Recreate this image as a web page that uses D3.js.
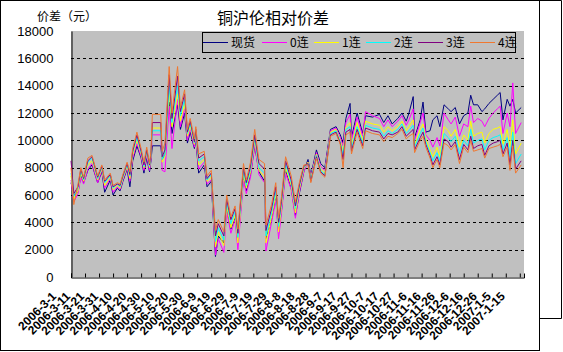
<!DOCTYPE html>
<html><head><meta charset="utf-8">
<script src="https://cdn.jsdelivr.net/npm/d3@7"></script>
<style>
body{margin:0;background:#fff}
svg{display:block}
text{font-family:"Liberation Sans","Noto Sans CJK SC",sans-serif}
.cjk{font-family:"Noto Sans CJK SC",sans-serif}
</style>
</head><body><svg id="c" width="563" height="352"></svg>
<script>
const dates = ["2006-3-1","2006-3-3","2006-3-6","2006-3-8","2006-3-10","2006-3-13","2006-3-16","2006-3-20","2006-3-23","2006-3-25",
"2006-3-29","2006-3-31","2006-4-3","2006-4-5","2006-4-7","2006-4-10","2006-4-12","2006-4-14","2006-4-17","2006-4-20",
"2006-4-22","2006-4-24","2006-4-26","2006-4-27","2006-4-28","2006-5-4","2006-5-5","2006-5-7","2006-5-10","2006-5-12",
"2006-5-16","2006-5-18","2006-5-21","2006-5-23","2006-5-25","2006-5-28","2006-5-29","2006-5-31","2006-6-4","2006-6-6",
"2006-6-9","2006-6-12","2006-6-14","2006-6-18","2006-6-20","2006-6-23","2006-6-26","2006-6-28","2006-7-2","2006-7-4",
"2006-7-7","2006-7-10","2006-7-13","2006-7-17","2006-7-18","2006-7-22","2006-7-25","2006-7-27","2006-7-29","2006-8-1",
"2006-8-5","2006-8-8","2006-8-11","2006-8-14","2006-8-17","2006-8-19","2006-8-23","2006-8-26","2006-8-29","2006-9-2",
"2006-9-6","2006-9-9","2006-9-11","2006-9-13","2006-9-16","2006-9-17","2006-9-21","2006-9-25","2006-9-27","2006-10-2",
"2006-10-7","2006-10-10","2006-10-13","2006-10-16","2006-10-20","2006-10-23","2006-10-26","2006-10-28","2006-10-31","2006-11-1",
"2006-11-5","2006-11-7","2006-11-9","2006-11-12","2006-11-14","2006-11-17","2006-11-19","2006-11-22","2006-11-25","2006-11-27",
"2006-11-30","2006-12-3","2006-12-6","2006-12-9","2006-12-11","2006-12-13","2006-12-16","2006-12-19","2006-12-21","2006-12-24",
"2006-12-27","2006-12-30","2007-1-1","2007-1-3","2007-1-6","2007-1-8","2007-1-10","2007-1-12","2007-1-16"];

const spot = [6900,6000,6200,7400,6900,7800,8200,6900,7700,6200,
7100,6000,6500,6300,7000,7900,6600,8500,9600,8700,
7600,8700,7700,8500,9600,9600,8600,9000,12800,10500,
12600,10800,12000,9800,10600,9400,10100,7600,8200,6600,
7000,1500,3000,2500,5000,3500,4300,2600,7300,6300,
7500,9600,7700,7000,2800,4200,5800,3300,4800,7800,
6500,4500,6200,7700,8600,7400,9300,8300,8000,10800,
11000,10400,9800,11600,12700,10200,12000,10500,11800,11700,
11900,11300,11800,11200,11600,12000,11400,12000,13200,10200,
11500,12800,10600,10700,11500,11800,11000,12600,12300,12100,
12400,11200,11800,12000,13300,12600,12600,12100,12300,12700,
13000,13300,13500,11500,13000,12500,13000,12000,12400];

const lian0 = [7100,5500,6100,7300,6800,7900,8300,6900,7800,6500,
7200,6200,6600,6400,7100,8000,7000,8700,9800,8800,
7800,8900,7800,8600,10400,10400,7800,7700,12500,9400,
13000,11000,12300,10000,10800,9500,10200,7900,8400,6800,
7100,1600,2800,1800,4800,3200,4200,2000,7100,6100,
7300,9700,7500,6900,1900,4000,5600,2800,4600,7600,
6400,4300,6300,7700,8400,7300,9100,8100,7800,10700,
10900,10200,9600,11300,11900,10000,11700,10300,12100,11800,
11600,11000,11500,11000,11400,11800,11100,11500,12300,10000,
11300,12000,10400,10000,9500,10200,9600,12000,11500,11200,
11700,10300,11200,11000,12500,11300,11600,11400,11000,11600,
12000,12300,12500,10500,12000,11000,14200,10500,11300];

const lian1 = [7400,5700,6300,7600,7000,8200,8500,7100,7900,6700,
7300,6400,6700,6500,7200,8100,7200,8900,10000,9000,
8000,9100,8000,8800,10900,10900,8400,8800,13500,11000,
13400,11400,12700,10300,11000,9700,10400,8200,8600,7000,
7300,2200,3300,2300,5200,3600,4500,2500,7500,6500,
7700,10000,7800,7300,2500,4400,6000,3300,5000,8000,
6700,4700,6500,7900,8400,7200,9000,7900,7600,10600,
10800,10000,9200,11000,11300,9600,11300,10000,11400,11200,
11100,10600,11000,10700,11000,11400,10700,11000,11500,9700,
10800,11200,10100,9300,8800,9500,8800,11000,10700,10300,
10800,9500,10400,10000,11400,10300,10500,10600,9800,10500,
10800,10900,11000,9700,10800,9500,11500,9000,9800];

const lian2 = [7600,5900,6500,7800,7100,8400,8700,7200,8000,6900,
7400,6500,6800,6600,7300,8200,7400,9100,10200,9100,
8100,9200,8100,8900,10700,10700,8600,9000,14000,11300,
14000,11800,13000,10500,11200,9800,10600,8500,8800,7100,
7500,2600,3600,2700,5500,3900,4800,2900,7800,6700,
7900,10200,8000,7600,3000,4700,6300,3700,5300,8300,
6900,5000,6700,8000,8300,7100,8900,7800,7500,10500,
10700,9900,8900,10800,11000,9400,11000,9800,11100,10900,
10800,10300,10700,10500,10800,11200,10500,10700,11100,9500,
10500,10900,9900,9100,8500,9100,8500,10500,10200,9900,
10300,9000,10000,9600,10800,9800,10000,10100,9300,10000,
10200,10300,10400,9300,10200,8800,10600,8300,9000];

const lian3 = [8500,6100,6600,7900,7200,8500,8800,7300,8100,7000,
7500,6600,6800,6700,7400,8300,7500,9200,10400,9200,
8200,9300,8200,9000,11300,11300,8800,9300,14800,11600,
14700,12100,13400,10600,11400,9900,10800,8700,9000,7200,
7600,3000,3900,3000,5700,4200,5000,3200,8000,6900,
8100,10400,8300,7900,3400,5000,6600,4000,5500,8500,
7100,5200,6800,8100,8300,7000,8800,7700,7400,10400,
10600,9800,8600,10600,10800,9200,10800,9600,10900,10700,
10600,10100,10500,10400,10600,11000,10300,10500,10800,9300,
10200,10600,9700,8900,8200,8800,8200,10100,9900,9500,
9900,8600,9700,9300,10300,9400,9600,9700,8900,9600,
9800,9900,10000,9000,9800,8200,10000,7900,8500];

const lian4 = [8000,5300,6800,8000,7300,8700,8900,7400,8200,7100,
7600,6700,6900,6800,7500,8400,7700,9400,10600,9400,
8400,9500,8300,9200,11900,11900,9200,9800,15400,12000,
15400,12400,13700,10800,11600,10100,11000,9000,9200,7400,
7800,3400,4200,3300,6000,4400,5200,3500,8300,7100,
8400,10800,8600,8300,3800,5300,6900,4300,5800,8800,
7400,5500,7000,8200,8200,6900,8700,7600,7300,10300,
10500,9700,8000,10400,10600,9000,10600,9400,10700,10500,
10400,9900,10300,10200,10500,10800,10100,10300,10500,9100,
10000,10300,9500,8700,8000,8600,8000,9800,9600,9300,
9700,8300,9500,9100,10000,9200,9300,9400,8700,9400,
9500,9600,9700,8800,9500,7800,9600,7600,8200];

const seriesNames = ["现货","0连","1连","2连","3连","4连"];
const seriesColors = ["#000080","#FF00FF","#FFFF00","#00FFFF","#800080","#F07830"];
const yTicks = [0,2000,4000,6000,8000,10000,12000,14000,16000,18000];
const xTickLabels = ["2006-3-1","2006-3-11","2006-3-21","2006-3-31","2006-4-10","2006-4-20","2006-4-30",
"2006-5-10","2006-5-20","2006-5-30","2006-6-9","2006-6-19","2006-6-29","2006-7-9","2006-7-19","2006-7-29",
"2006-8-8","2006-8-18","2006-8-28","2006-9-7","2006-9-17","2006-9-27","2006-10-7","2006-10-17","2006-10-27",
"2006-11-6","2006-11-16","2006-11-26","2006-12-6","2006-12-16","2006-12-26","2007-1-5","2007-1-15"];
const xDomain = ["2006-3-1","2007-1-18"];
const title = "铜沪伦相对价差";
const yTitle = "价差（元）";

const parse = d3.timeParse("%Y-%m-%d");
const svg = d3.select("#c");
const L = 71, R = 524, T = 31, B = 277;

// frames
svg.append("rect").attr("x",0.5).attr("y",0.5).attr("width",539).attr("height",350)
  .attr("fill","#fff").attr("stroke","#000");
svg.append("path").attr("d","M539.5,0.5H561.5V318.5H539.5").attr("fill","none").attr("stroke","#000");

const x = d3.scaleTime().domain(xDomain.map(parse)).range([L,R]);
const y = d3.scaleLinear().domain([0,18000]).range([B,T]);

svg.append("rect").attr("x",L).attr("y",T).attr("width",R-L).attr("height",B-T).attr("fill","#C0C0C0");

// gridlines
svg.append("g").selectAll("line").data(yTicks.filter(v=>v>0 && v<18000)).join("line")
  .attr("x1",L).attr("x2",R).attr("y1",d=>Math.round(y(d))+0.5).attr("y2",d=>Math.round(y(d))+0.5)
  .attr("stroke","#000").attr("stroke-dasharray","3,3").attr("stroke-width",1);

// y axis
const yAxis = d3.axisLeft(y).tickValues(yTicks).tickSize(0).tickPadding(18).tickFormat(d3.format("d"));
const gy = svg.append("g").attr("transform",`translate(${L+0.5},0)`).call(yAxis);
gy.select(".domain").attr("stroke","#000");
gy.selectAll("text").attr("font-size",13).attr("fill","#000").style("font-family","Liberation Sans");

// x axis
const xTickDates = xTickLabels.map(parse);
const xAxis = d3.axisBottom(x).tickValues(xTickDates).tickSize(-4).tickFormat(()=>"");
const gx = svg.append("g").attr("transform",`translate(0,${B+0.5})`).call(xAxis);
gx.select(".domain").attr("stroke","#000");
gx.selectAll(".tick line").attr("stroke","#000");
svg.append("g").selectAll("text").data(xTickLabels).join("text")
  .attr("transform",d=>`translate(${x(parse(d))-14},${B+20}) rotate(-45)`)
  .attr("text-anchor","end").attr("font-size",12).attr("font-weight","bold").attr("fill","#000")
  .text(d=>d);

// lines
const allSeries = [spot,lian0,lian1,lian2,lian3,lian4];
const pd = dates.map(parse);
const line = d3.line().x((d,i)=>x(pd[i])).y(d=>y(d));
svg.append("g").selectAll("path").data(allSeries).join("path")
  .attr("d",d=>line(d)).attr("fill","none")
  .attr("stroke",(d,i)=>seriesColors[i]).attr("stroke-width",1);

// titles
svg.append("text").attr("class","cjk").attr("x",273).attr("y",24).attr("text-anchor","middle")
  .attr("font-size",16).attr("fill","#000").text(title);
svg.append("text").attr("class","cjk").attr("x",37).attr("y",21)
  .attr("font-size",12).attr("fill","#000").text(yTitle);

// legend
const lg = svg.append("g");
lg.append("rect").attr("x",202.5).attr("y",32.5).attr("width",313).attr("height",20)
  .attr("fill","#C0C0C0").attr("stroke","#000");
const legX = [203,262,314,366,418,470];
seriesNames.forEach((n,i)=>{
  lg.append("line").attr("x1",legX[i]).attr("x2",legX[i]+25).attr("y1",42.5).attr("y2",42.5)
    .attr("stroke",seriesColors[i]).attr("stroke-width",1);
  lg.append("text").attr("class","cjk").attr("x",legX[i]+28).attr("y",47)
    .attr("font-size",12).attr("fill","#000").text(n);
});
</script>
</body></html>
